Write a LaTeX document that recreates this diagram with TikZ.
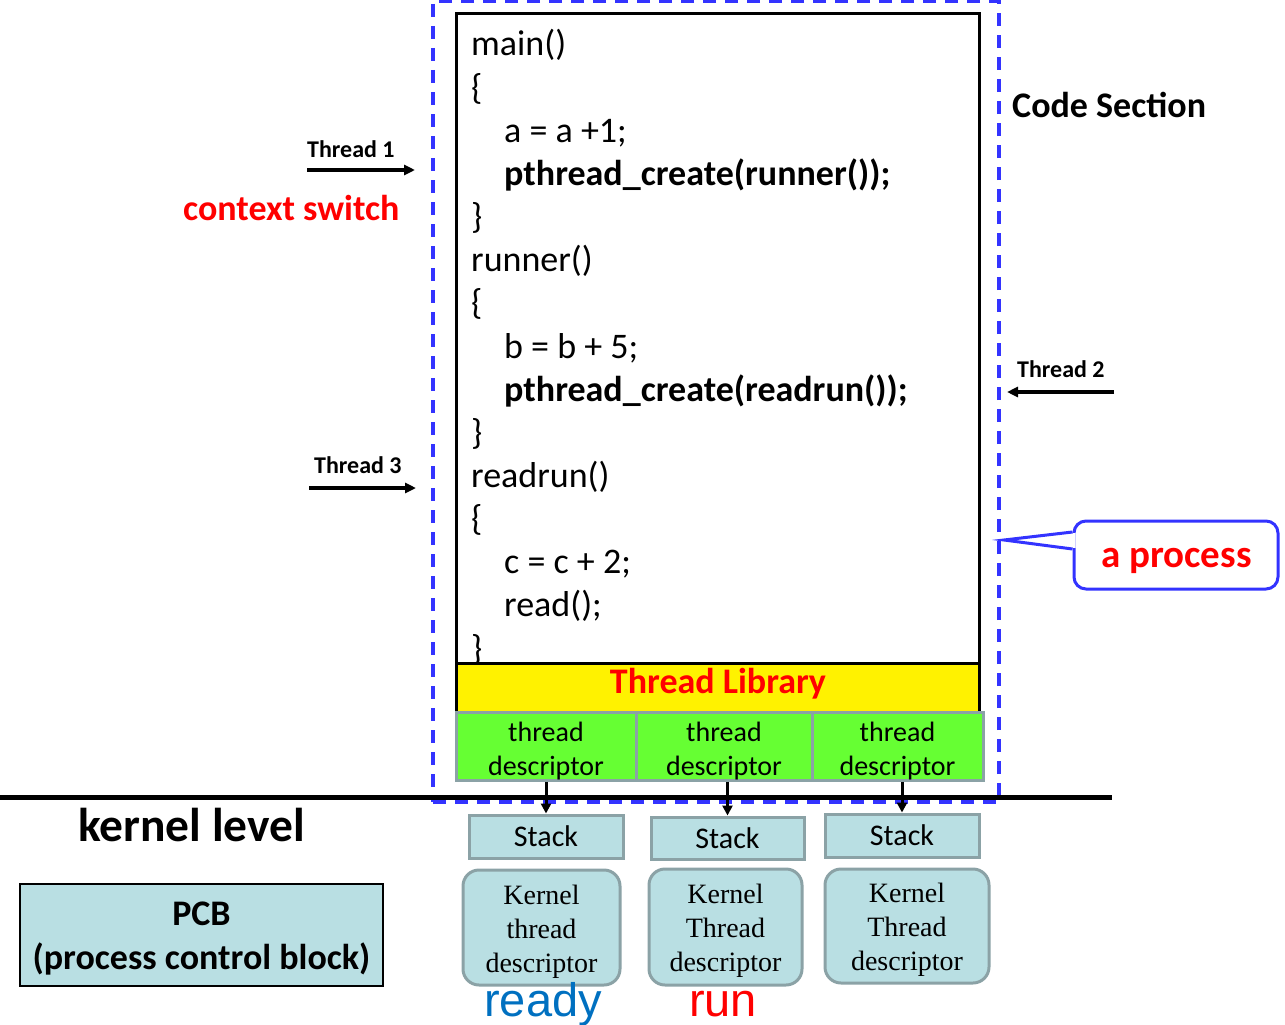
\documentclass[tikz,border=0pt]{standalone}
\usepackage{fontspec}
\setmainfont{Carlito}
\newfontfamily\kernelfont{Liberation Serif}
\newfontfamily\statefont{Liberation Sans}
\usetikzlibrary{arrows.meta,calc}
\definecolor{procblue}{RGB}{51,51,255}
\definecolor{descgreen}{RGB}{102,255,51}
\definecolor{kernfill}{RGB}{185,223,227}
\definecolor{kernedge}{RGB}{139,162,166}
\definecolor{readyblue}{RGB}{0,112,192}

\begin{document}
\begin{tikzpicture}[x=1pt, y=-1pt,
  codeline/.style={anchor=base west, inner sep=0pt, font=\fontsize{36}{43}\selectfont},
  codebold/.style={anchor=base west, inner sep=0pt, font=\fontsize{36}{43}\selectfont\bfseries},
  threadlabel/.style={anchor=base west, inner sep=0pt, font=\fontsize{24}{29}\selectfont\bfseries},
  threadarrow/.style={line width=3.5pt, -{Triangle[length=11pt, width=10pt]}},
  descbox/.style={draw=kernedge, fill=descgreen, line width=3pt, minimum height=67pt, inner sep=0pt, align=center, font=\fontsize{28}{34}\selectfont},
  stackbox/.style={draw=kernedge, fill=kernfill, line width=3pt, minimum width=154pt, minimum height=43pt, inner sep=0pt, font=\fontsize{30}{36}\selectfont},
  kernbox/.style={draw=kernedge, fill=kernfill, line width=3pt, rounded corners=16pt, minimum height=115pt, inner sep=0pt, align=center, font=\fontsize{28}{34}\kernelfont},
  descarrow/.style={line width=3pt, -{Triangle[length=10pt, width=10pt]}},
  statelabel/.style={anchor=base, inner sep=0pt, font=\fontsize{47}{56}\statefont},
]
  \useasboundingbox (0, 0) rectangle (1285, 1025);

  % the process (dashed) and its code
  \node (process) at (716, 401.5) [draw=procblue, line width=3.5pt, dash pattern=on 13pt off 9pt, minimum width=566pt, minimum height=801pt, inner sep=0pt] {};
  \node (codebox) at (717.5, 338.5) [draw, line width=3pt, minimum width=523pt, minimum height=649pt, inner sep=0pt] {};
  \node (c1) at (471, 56) [codeline] {main()};
  \node (c2) at (471, 99.15) [codeline] {\{};
  \node (c3) at (504, 142.3) [codeline] {a = a +1;};
  \node (c4) at (504, 185.45) [codebold] {pthread\_create(runner());};
  \node (c5) at (471, 228.6) [codeline] {\}};
  \node (c6) at (471, 271.75) [codeline] {runner()};
  \node (c7) at (471, 314.9) [codeline] {\{};
  \node (c8) at (504, 358.05) [codeline] {b = b + 5;};
  \node (c9) at (504, 401.2) [codebold] {pthread\_create(readrun());};
  \node (c10) at (471, 444.35) [codeline] {\}};
  \node (c11) at (471, 487.5) [codeline] {readrun()};
  \node (c12) at (471, 530.65) [codeline] {\{};
  \node (c13) at (504, 573.8) [codeline] {c = c + 2;};
  \node (c14) at (504, 616.95) [codeline] {read();};
  \node (c15) at (471, 660.1) [codeline] {\}};

  % thread library and descriptors
  \node (threadlib) at (717.5, 688) [draw, fill=yellow, line width=3pt, minimum width=523pt, minimum height=50pt, inner sep=0pt] {};
  \node (threadlibtext) at (718, 693) [anchor=base, inner sep=0pt, text=red, font=\fontsize{36}{43}\selectfont\bfseries] {Thread Library};
  \node (td1) at (546, 746.5) [descbox, minimum width=180pt] {\rule{0pt}{29pt}thread\\descriptor};
  \node (td2) at (724, 746.5) [descbox, minimum width=176pt] {\rule{0pt}{29pt}thread\\descriptor};
  \node (td3) at (897.5, 746.5) [descbox, minimum width=171pt] {\rule{0pt}{29pt}thread\\descriptor};

  % user / kernel border
  \coordinate (borderwest) at (0, 797.5);
  \coordinate (bordereast) at (1112, 797.5);
  \draw [line width=4.5pt] (borderwest) -- (bordereast);
  \node (kernellevel) at (78, 841) [anchor=base west, inner sep=0pt, font=\fontsize{47.5}{57}\selectfont\bfseries] {kernel level};

  % kernel side
  \node (st1) at (546, 836.5) [stackbox] {Stack};
  \node (st2) at (727.5, 838) [stackbox, minimum width=153pt, minimum height=42pt] {Stack};
  \node (st3) at (902, 835.5) [stackbox] {Stack};
  \draw [descarrow] (td1.south -| st1.north) -- (st1.north);
  \draw [descarrow] (td2.south -| st2.north) -- (st2.north);
  \draw [descarrow] (td3.south -| st3.north) -- (st3.north);
  \node (kt1) at (541.5, 927.5) [kernbox, minimum width=157pt] {\rule{0pt}{27pt}Kernel\\thread\\descriptor};
  \node (kt2) at (725.5, 927) [kernbox, minimum width=153pt, minimum height=116pt] {\rule{0pt}{27pt}Kernel\\Thread\\descriptor};
  \node (kt3) at (907, 926) [kernbox, minimum width=164pt, minimum height=114pt] {\rule{0pt}{27pt}Kernel\\Thread\\descriptor};
  \node (ready) at (543, 1016) [statelabel, text=readyblue] {ready};
  \node (run) at (723, 1016) [statelabel, text=red] {run};
  \node (pcb) at (201.5, 935) [draw, fill=kernfill, line width=2.5pt, minimum width=363pt, minimum height=102pt, inner sep=0pt, align=center, font=\fontsize{36}{44}\selectfont\bfseries] {\rule{0pt}{31pt}PCB\\(process control block)};

  % threads entering the code
  \node (th1) at (307, 157) [threadlabel] {Thread 1};
  \coordinate (th1from) at (307, 170);
  \coordinate (th1to) at (415, 170);
  \draw [threadarrow] (th1from) -- (th1to);
  \node (switch) at (183, 220) [anchor=base west, inner sep=0pt, text=red, font=\fontsize{36}{43}\selectfont\bfseries] {context switch};
  \node (th3) at (314, 473) [threadlabel] {Thread 3};
  \coordinate (th3from) at (309, 488);
  \coordinate (th3to) at (416, 488);
  \draw [threadarrow] (th3from) -- (th3to);
  \node (th2) at (1017, 377) [threadlabel] {Thread 2};
  \coordinate (th2from) at (1114, 392);
  \coordinate (th2to) at (1007, 392);
  \draw [threadarrow] (th2from) -- (th2to);
  \node (codesection) at (1012, 117) [anchor=base west, inner sep=0pt, font=\fontsize{36}{43}\selectfont\bfseries] {Code Section};

  % callout
  \node (procbox) at (1176, 555) [draw=procblue, fill=white, line width=3pt, rounded corners=12pt, minimum width=204pt, minimum height=68pt, inner sep=0pt] {};
  \coordinate (proctip) at (1004, 540);
  \fill [white] ($(procbox.west)+(3,-22)$) -- (proctip) -- ($(procbox.west)+(3,-7)$) -- cycle;
  \draw [procblue, line width=3pt] ($(procbox.west)+(0,-23)$) -- (proctip) -- ($(procbox.west)+(0,-6)$);
  \node (proctext) at (1176.5, 567) [anchor=base, inner sep=0pt, text=red, font=\fontsize{39}{47}\selectfont\bfseries] {a process};
\end{tikzpicture}
\end{document}
